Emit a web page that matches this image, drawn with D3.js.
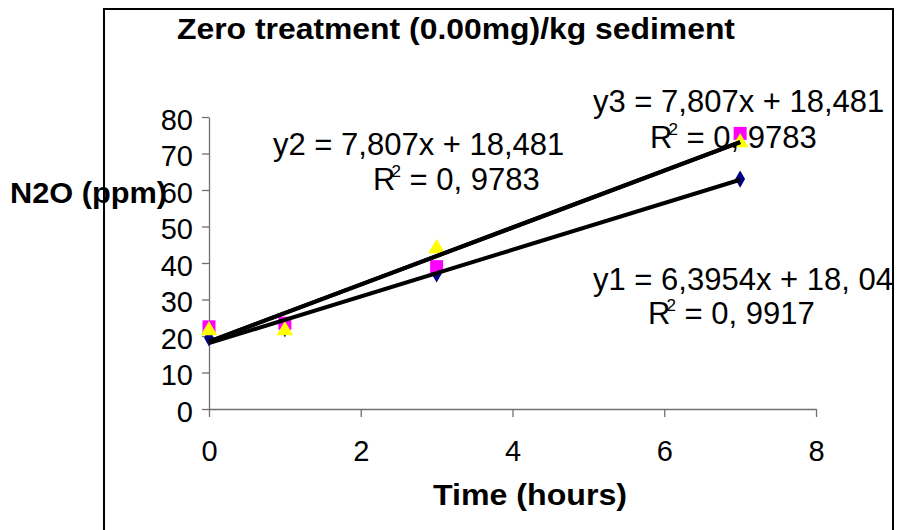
<!DOCTYPE html>
<html>
<head>
<meta charset="utf-8">
<script src="https://cdn.jsdelivr.net/npm/d3@7"></script>
<style>
  body { margin: 0; background: #fff; }
  text { font-family: "Liberation Sans", Arial, sans-serif; }
</style>
</head>
<body>
<script>
const w = 902;
const h = 530;

// measured hours
const hours = [0, 1, 3, 7];
// N2O (ppm)
const series1 = [19.5, 22, 37, 63];     // navy diamonds
const series2 = [22.5, 23.5, 39, 75.5]; // magenta squares
const series3 = [21.5, 21.5, 44, 73];   // yellow triangles

// trendlines as printed on the chart
const trends = [
	{ slope: 6.3954, icept: 18.04 },
	{ slope: 7.807, icept: 18.481 },
	{ slope: 7.807, icept: 18.481 }
];
const eqLabels = [
	{ eq: "y1 = 6,3954x + 18, 04", r2: "0, 9917" },
	{ eq: "y2 = 7,807x + 18,481", r2: "0, 9783" },
	{ eq: "y3 = 7,807x + 18,481", r2: "0, 9783" }
];
const xTicks = [0, 2, 4, 6, 8];
const yTicks = [0, 10, 20, 30, 40, 50, 60, 70, 80];

const xScale = d3.scaleLinear().domain([0, 8]).range([209, 816]);
const yScale = d3.scaleLinear().domain([0, 80]).range([409, 117]);

const svg = d3.select("body")
	.append("svg")
	.attr("width", w)
	.attr("height", h);

// chart frame (bottom edge falls outside the picture)
svg.append("rect")
	.attr("x", 104)
	.attr("y", 9)
	.attr("width", 789)
	.attr("height", 560)
	.attr("fill", "none")
	.attr("stroke", "#000")
	.attr("stroke-width", 2);

svg.append("text")
	.text("Zero treatment (0.00mg)/kg sediment")
	.attr("x", 177)
	.attr("y", 39)
	.attr("font-size", "29px")
	.attr("font-weight", "bold")
	.attr("textLength", 558)
	.attr("lengthAdjust", "spacingAndGlyphs");

const xAxis = d3.axisBottom(xScale).tickValues(xTicks).tickSize(8).tickSizeOuter(0).tickPadding(23);
const yAxis = d3.axisLeft(yScale).tickValues(yTicks).tickSize(7).tickSizeOuter(0).tickPadding(9);

const gx = svg.append("g")
	.attr("transform", "translate(0," + yScale(0) + ")")
	.call(xAxis);
const gy = svg.append("g")
	.attr("transform", "translate(" + xScale(0) + ",0)")
	.call(yAxis);

[gx, gy].forEach((g) => {
	g.selectAll("path, line").attr("stroke", "#707070").attr("stroke-width", 1.3);
	g.selectAll("text")
		.attr("font-size", "29px")
		.attr("fill", "#000")
		.style("font-family", '"Liberation Sans", Arial, sans-serif');
});
gy.selectAll("text").attr("dy", "0.42em");

// markers
const pts = (vals) => hours.map((x, i) => ({ x: x, y: vals[i] }));

svg.selectAll(".diamond")
	.data(pts(series1))
	.enter()
	.append("path")
	.attr("class", "diamond")
	.attr("d", d3.symbol(d3.symbolDiamond, 85)())
	.attr("transform", (d) => "translate(" + xScale(d.x) + "," + yScale(d.y) + ")")
	.attr("fill", "#000080");

svg.selectAll(".square")
	.data(pts(series2))
	.enter()
	.append("rect")
	.attr("class", "square")
	.attr("x", (d) => xScale(d.x) - 6.5)
	.attr("y", (d) => yScale(d.y) - 6.5)
	.attr("width", 13)
	.attr("height", 13)
	.attr("fill", "#ff00ff");

svg.selectAll(".triangle")
	.data(pts(series3))
	.enter()
	.append("path")
	.attr("class", "triangle")
	.attr("d", d3.symbol(d3.symbolTriangle, 120)())
	.attr("transform", (d) => "translate(" + xScale(d.x) + "," + yScale(d.y) + ")")
	.attr("fill", "#ffff00");

// trendlines
svg.selectAll(".trend")
	.data(trends)
	.enter()
	.append("line")
	.attr("class", "trend")
	.attr("x1", xScale(0))
	.attr("y1", (d) => yScale(d.icept))
	.attr("x2", xScale(7))
	.attr("y2", (d) => yScale(d.slope * 7 + d.icept))
	.attr("stroke", "#000")
	.attr("stroke-width", 4);

// equation labels
const labelPos = [
	{ x: 593, y: 290, rx: 648, ry: 324 },
	{ x: 273, y: 155, rx: 373, ry: 190 },
	{ x: 593, y: 112, rx: 650, ry: 148 }
];

eqLabels.forEach((d, i) => {
	const p = labelPos[i];
	svg.append("text")
		.text(d.eq)
		.attr("x", p.x)
		.attr("y", p.y)
		.attr("font-size", "31px");
	const r = svg.append("text")
		.attr("x", p.rx)
		.attr("y", p.ry)
		.attr("font-size", "31px");
	r.append("tspan").text("R");
	r.append("tspan").text("2").attr("font-size", "17px").attr("dx", -4).attr("dy", -13);
	r.append("tspan").text(" = " + d.r2).attr("dy", 13);
});

svg.append("text")
	.text("N2O (ppm)")
	.attr("x", 10)
	.attr("y", 203)
	.attr("font-size", "29px")
	.attr("font-weight", "bold")
	.attr("textLength", 157)
	.attr("lengthAdjust", "spacingAndGlyphs");

svg.append("text")
	.text("Time (hours)")
	.attr("x", 433)
	.attr("y", 505)
	.attr("font-size", "29px")
	.attr("font-weight", "bold")
	.attr("textLength", 194)
	.attr("lengthAdjust", "spacingAndGlyphs");
</script>
</body>
</html>
